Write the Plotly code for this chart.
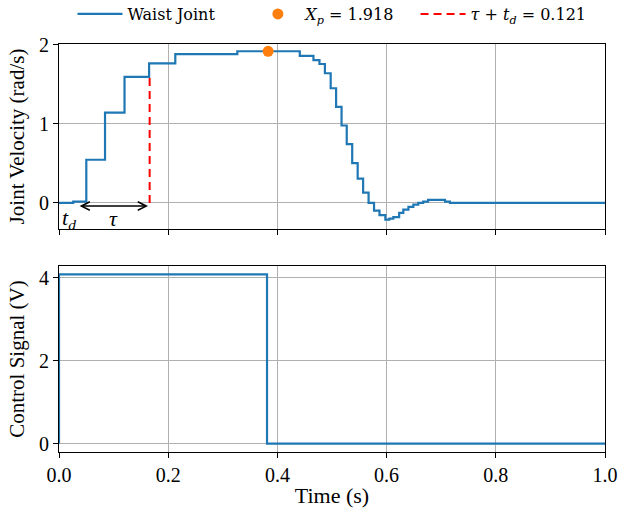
import plotly.graph_objects as go
from plotly.subplots import make_subplots

# ---- data ----
vel_t = [0.0, 0.026, 0.050, 0.0843, 0.120, 0.165, 0.213, 0.3266, 0.441, 0.466,
         0.477, 0.487, 0.4976, 0.5075, 0.5175, 0.527, 0.537, 0.547, 0.557, 0.567,
         0.577, 0.587, 0.5977, 0.605, 0.6123, 0.623, 0.6306, 0.640, 0.649, 0.658,
         0.667, 0.676, 0.707, 0.716, 1.0]
vel_v = [0.0, 0.016, 0.546, 1.143, 1.593, 1.765, 1.883, 1.918, 1.86, 1.807,
         1.757, 1.64, 1.45, 1.215, 0.979, 0.744, 0.504, 0.306, 0.13, 0.0,
         -0.097, -0.155, -0.211, -0.198, -0.18, -0.126, -0.084, -0.05, -0.021, 0.0,
         0.016, 0.038, 0.016, 0.0, 0.0]

ctrl_t = [0.0, 0.0, 0.381, 1.0]
ctrl_v = [0.0, 4.08, 0.0, 0.0]

xp_t = [0.383]
xp_v = [1.918]

dead_t = [0.166, 0.166]
dead_v = [0.0, 1.593]

arrow_start = 0.035
arrow_end = 0.163
arrow_y = -0.04
td_pos = (0.018, -0.2)
tau_pos = (0.0995, -0.2)

x_ticks = [0.0, 0.2, 0.4, 0.6, 0.8, 1.0]
vel_ticks = [0, 1, 2]
ctrl_ticks = [0, 2, 4]

BLUE = "#1f77b4"
ORANGE = "#ff7f0e"
RED = "#ff0000"
FONT = "Liberation Serif"
LFONT = "DejaVu Serif"
PAD1 = "&nbsp;" * 6
PAD2 = "&nbsp;" * 3

fig = make_subplots(rows=2, cols=1, shared_xaxes=True, vertical_spacing=0.0)

fig.add_trace(go.Scatter(x=vel_t, y=vel_v, mode="lines", line_shape="hv",
                         line=dict(color=BLUE, width=2.2), name="Waist Joint" + PAD1), row=1, col=1)
fig.add_trace(go.Scatter(x=xp_t, y=xp_v, mode="markers",
                         marker=dict(color=ORANGE, size=11),
                         name="<i>X<sub>p</sub></i> = 1.918" + PAD2), row=1, col=1)
fig.add_trace(go.Scatter(x=dead_t, y=dead_v, mode="lines",
                         line=dict(color=RED, width=2, dash="8px,5px"),
                         name="<i>τ</i> + <i>t<sub>d</sub></i> = 0.121"), row=1, col=1)
fig.add_trace(go.Scatter(x=ctrl_t, y=ctrl_v, mode="lines", line_shape="hv",
                         line=dict(color=BLUE, width=2.2), showlegend=False), row=2, col=1)

fig.add_annotation(x=arrow_end, y=arrow_y, ax=arrow_start, ay=arrow_y,
                   xref="x", yref="y", axref="x", ayref="y", text="",
                   showarrow=True, arrowside="end+start", arrowhead=5,
                   arrowsize=1.1, arrowwidth=1.5, arrowcolor="black")
fig.add_annotation(x=td_pos[0], y=td_pos[1], xref="x", yref="y",
                   text="<i>t<sub>d</sub></i>", showarrow=False,
                   font=dict(family=FONT, size=22, color="black"))
fig.add_annotation(x=tau_pos[0], y=tau_pos[1], xref="x", yref="y",
                   text="<i>τ</i>", showarrow=False,
                   font=dict(family=FONT, size=22, color="black"))

axis_common = dict(showgrid=True, gridcolor="#b0b0b0", gridwidth=1,
                   showline=True, linecolor="black", linewidth=1.1, mirror=True,
                   ticks="outside", ticklen=5, tickcolor="black", tickwidth=1,
                   zeroline=False,
                   tickfont=dict(family=FONT, size=20, color="black"))

fig.update_xaxes(**axis_common, range=[0, 1], tickvals=x_ticks)
fig.update_xaxes(showticklabels=False, row=1, col=1)
fig.update_xaxes(tickformat=".1f", row=2, col=1,
                 title=dict(text="Time (s)", standoff=5,
                            font=dict(family=FONT, size=22, color="black")))

fig.update_yaxes(**axis_common)
fig.update_yaxes(range=[-0.33, 2.01], tickvals=vel_ticks, row=1, col=1,
                 domain=[0.5466, 1.0],
                 title=dict(text="Joint Velocity (rad/s)", standoff=8,
                            font=dict(family=FONT, size=21, color="black")))
fig.update_yaxes(range=[-0.204, 4.284], tickvals=ctrl_ticks, row=2, col=1,
                 domain=[0.0, 0.4559],
                 title=dict(text="Control Signal (V)", standoff=8,
                            font=dict(family=FONT, size=21, color="black")))

fig.update_layout(
    width=618, height=508,
    margin=dict(l=59, r=13, t=44, b=56, autoexpand=False),
    plot_bgcolor="white", paper_bgcolor="white",
    font=dict(family=FONT, size=18, color="black"),
    legend=dict(orientation="h", x=0.5, xanchor="center", y=1.0735, yanchor="middle",
                font=dict(family=LFONT, size=16, color="black"),
                bgcolor="rgba(0,0,0,0)", itemwidth=45),
)

fig.write_html("out.html")
